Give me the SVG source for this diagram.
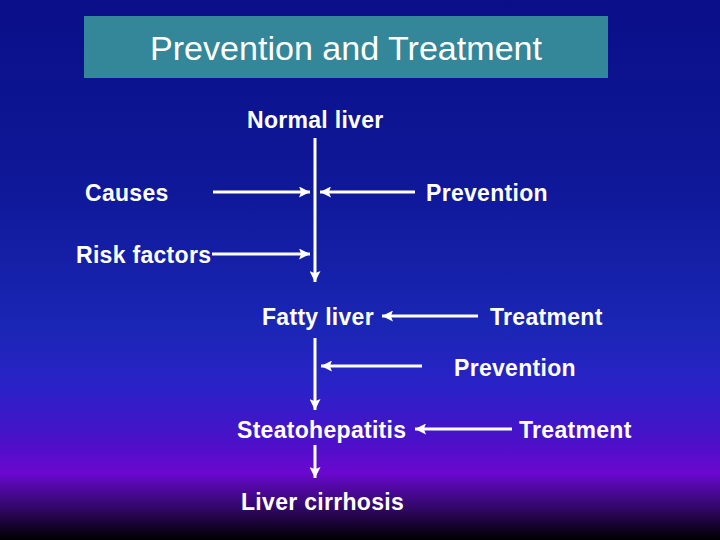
<svg xmlns="http://www.w3.org/2000/svg" width="720" height="540" viewBox="0 0 720 540">
<defs>
<linearGradient id="bg" x1="0" y1="0" x2="0" y2="1">
<stop offset="0" stop-color="#0a0f88"/>
<stop offset="0.35" stop-color="#0f1898"/>
<stop offset="0.6" stop-color="#1a26b4"/>
<stop offset="0.72" stop-color="#2a22c8"/>
<stop offset="0.82" stop-color="#4c10c8"/>
<stop offset="0.875" stop-color="#6a08d0"/>
<stop offset="0.93" stop-color="#3a0878"/>
<stop offset="1" stop-color="#000000"/>
</linearGradient>
<marker id="ah" viewBox="0 0 10 10" refX="10" refY="5" markerWidth="11" markerHeight="11" markerUnits="userSpaceOnUse" orient="auto">
<path d="M0,0 L10,5 L0,10 L2,5 Z" fill="#ffffff"/>
</marker>
<style>
.lbl{font-family:"Liberation Sans",Arial,sans-serif;font-weight:bold;font-size:23px;letter-spacing:0.3px;fill:#ffffff}
.title{font-family:"Liberation Sans",Arial,sans-serif;font-size:34px;fill:#ffffff}
.c{stroke:#ffffff;stroke-width:3;fill:none;marker-end:url(#ah)}
</style>
</defs>
<rect x="0" y="0" width="720" height="540" fill="url(#bg)"/>
<g id="title">
<rect x="84" y="16" width="524" height="62" fill="#348699"/>
<text class="title" x="150" y="60" textLength="392" lengthAdjust="spacingAndGlyphs">Prevention and Treatment</text>
</g>
<g id="normal-liver"><text class="lbl" x="247" y="128">Normal liver</text></g>
<g id="causes"><text class="lbl" x="85" y="201">Causes</text></g>
<g id="prevention-1"><text class="lbl" x="426" y="201">Prevention</text></g>
<g id="risk-factors"><text class="lbl" x="76" y="263">Risk factors</text></g>
<g id="fatty-liver"><text class="lbl" x="262" y="325">Fatty liver</text></g>
<g id="treatment-1"><text class="lbl" x="490" y="325">Treatment</text></g>
<g id="prevention-2"><text class="lbl" x="454" y="376">Prevention</text></g>
<g id="steatohepatitis"><text class="lbl" x="237" y="438">Steatohepatitis</text></g>
<g id="treatment-2"><text class="lbl" x="519" y="438">Treatment</text></g>
<g id="liver-cirrhosis"><text class="lbl" x="241" y="510">Liver cirrhosis</text></g>
<g id="connectors">
<line class="c" x1="213" y1="192" x2="310" y2="192"/>
<line class="c" x1="415" y1="192" x2="320" y2="192"/>
<line class="c" x1="212" y1="254" x2="310" y2="254"/>
<line class="c" x1="315" y1="138" x2="315" y2="282"/>
<line class="c" x1="478" y1="316" x2="382" y2="316"/>
<line class="c" x1="315" y1="338" x2="315" y2="410"/>
<line class="c" x1="422" y1="366" x2="321" y2="366"/>
<line class="c" x1="512" y1="429" x2="415" y2="429"/>
<line class="c" x1="315" y1="445" x2="315" y2="478"/>
</g>
</svg>
